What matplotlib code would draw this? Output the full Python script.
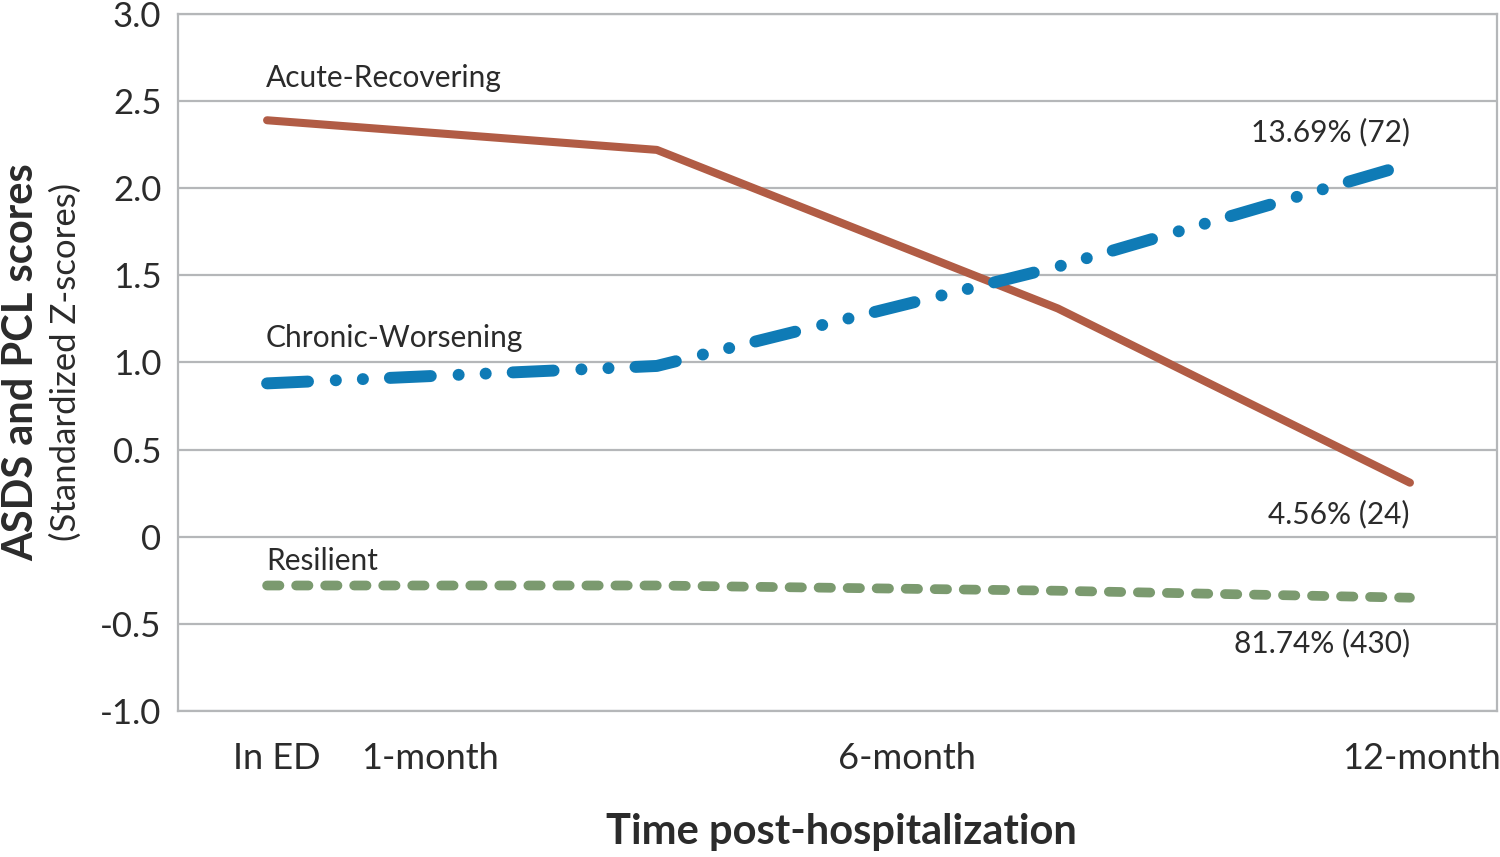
import matplotlib
matplotlib.use('Agg')
import matplotlib.pyplot as plt

plt.rcParams['font.family'] = ['Lato', 'DejaVu Sans']
plt.rcParams['lines.scale_dashes'] = False

# data
time_labels = ['In ED', '1-month', '6-month', '12-month']
x_points = [0.675, 3.63, 6.67, 9.34]
acute_recovering = [2.39, 2.22, 1.31, 0.31]
chronic_worsening = [0.88, 0.98, 1.55, 2.14]
resilient = [-0.28, -0.28, -0.31, -0.35]
y_ticks = [3.0, 2.5, 2.0, 1.5, 1.0, 0.5, 0.0, -0.5, -1.0]
y_tick_labels = ['3.0', '2.5', '2.0', '1.5', '1.0', '0.5', '0', '-0.5', '-1.0']

txt = '#2b2b2b'
grid_c = '#b5b7b9'

fig = plt.figure(figsize=(15, 8.57), dpi=100)
ax = fig.add_axes([0.1187, 0.1704, 0.8793, 0.8133])

ax.plot(x_points, acute_recovering, color='#b15c45', lw=5.8,
        solid_capstyle='round', solid_joinstyle='round', zorder=3)
ax.plot(x_points, chronic_worsening, color='#0f7bb6', lw=8.6,
        dashes=(29.5, 20, 0.1, 19.4, 0.1, 19.4),
        dash_capstyle='round', zorder=4)
ax.plot(x_points, resilient, color='#7b9a6f', lw=7,
        dashes=(8.9, 12), dash_capstyle='round', zorder=3)

ax.set_xlim(0, 10)
ax.set_ylim(-1.0, 3.0)
ax.set_yticks(y_ticks)
ax.set_yticklabels(y_tick_labels, fontsize=25, color=txt)
ax.tick_params(axis='y', length=0, pad=12)

# x tick labels sit at their own positions (not on the data points)
label_pos = [0.75, 1.91, 5.53, 9.43]
ax.set_xticks(label_pos)
ax.set_xticklabels(time_labels, fontsize=26, color=txt)
ax.tick_params(axis='x', length=0, pad=22)

ax.yaxis.grid(True, color=grid_c, lw=1.6)
ax.set_axisbelow(True)
for s in ax.spines.values():
    s.set_color(grid_c)
    s.set_linewidth(1.6)

# series labels
fs = 21.5
ax.text(0.667, 2.63, 'Acute-Recovering', fontsize=fs, color=txt, va='center', ha='left')
ax.text(0.667, 1.14, 'Chronic-Worsening', fontsize=fs, color=txt, va='center', ha='left')
ax.text(0.667, -0.14, 'Resilient', fontsize=fs, color=txt, va='center', ha='left')
ax.text(9.34, 2.32, '13.69% (72)', fontsize=fs, color=txt, va='center', ha='right')
ax.text(9.34, 0.13, '4.56% (24)', fontsize=fs, color=txt, va='center', ha='right')
ax.text(9.34, -0.61, '81.74% (430)', fontsize=fs, color=txt, va='center', ha='right')

fig.text(0.561, 0.029, 'Time post-hospitalization', fontsize=30, fontweight='bold',
         color=txt, ha='center', va='center')
fig.text(0.014, 0.578, 'ASDS and PCL scores', fontsize=30, fontweight='bold',
         color=txt, ha='center', va='center', rotation=90)
fig.text(0.044, 0.578, '(Standardized Z-scores)', fontsize=25,
         color=txt, ha='center', va='center', rotation=90)

fig.savefig('out.png', dpi=100)
